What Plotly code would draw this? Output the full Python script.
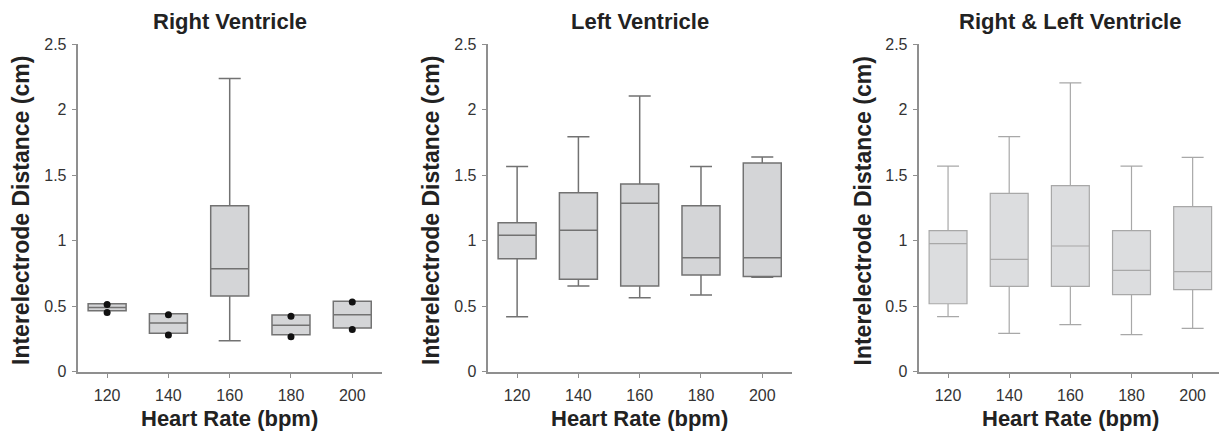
import plotly.graph_objects as go

categories = ["120", "140", "160", "180", "200"]

# Right Ventricle
rv_q1 = [0.466, 0.293, 0.578, 0.283, 0.334]
rv_med = [0.491, 0.372, 0.787, 0.354, 0.435]
rv_q3 = [0.519, 0.443, 1.268, 0.433, 0.537]
rv_lo = [0.466, 0.293, 0.237, 0.283, 0.334]
rv_hi = [0.519, 0.443, 2.238, 0.433, 0.537]
rv_pts_x = ["120", "120", "140", "140", "180", "180", "200", "200"]
rv_pts_y = [0.514, 0.453, 0.435, 0.280, 0.423, 0.267, 0.532, 0.323]

# Left Ventricle
lv_q1 = [0.863, 0.705, 0.654, 0.738, 0.726]
lv_med = [1.042, 1.080, 1.286, 0.871, 0.871]
lv_q3 = [1.138, 1.367, 1.434, 1.268, 1.594]
lv_lo = [0.420, 0.654, 0.565, 0.586, 0.721]
lv_hi = [1.566, 1.795, 2.106, 1.566, 1.640]

# Right & Left Ventricle
rl_q1 = [0.519, 0.652, 0.652, 0.588, 0.626]
rl_med = [0.978, 0.858, 0.960, 0.774, 0.764]
rl_q3 = [1.077, 1.362, 1.421, 1.077, 1.260]
rl_lo = [0.420, 0.293, 0.359, 0.283, 0.331]
rl_hi = [1.569, 1.795, 2.205, 1.569, 1.637]

titles = ["Right Ventricle", "Left Ventricle", "Right & Left Ventricle"]
y_ticks = [0, 0.5, 1, 1.5, 2, 2.5]
y_ticktext = ["0", "0.5", "1", "1.5", "2", "2.5"]

# page has an 8px body margin; figure is sized so it ends at the window edge
OFF = 8
W, H = 1227 - OFF, 439 - OFF
FONT = "Liberation Sans, Arial, sans-serif"


def px_x(p):
    return (p - OFF) / W


def px_y(p):
    return (H - (p - OFF)) / H


fig = go.Figure()

panels = [
    (rv_q1, rv_med, rv_q3, rv_lo, rv_hi, "#d4d5d7", "#727272", 1.5),
    (lv_q1, lv_med, lv_q3, lv_lo, lv_hi, "#d4d5d7", "#727272", 1.5),
    (rl_q1, rl_med, rl_q3, rl_lo, rl_hi, "#dcdddf", "#a8a8a8", 1.2),
]

# pixel positions (in window coordinates) of each plot area (left, right)
x_px = [(77.7, 381.7), (487.7, 791.7), (918.7, 1222.0)]
ytitle_px = [21, 431, 862.5]
y_bot, y_top = 371.7, 44.3
ydom = [px_y(y_bot), px_y(y_top)]

for i, (q1, med, q3, lo, hi, fill, line, lw) in enumerate(panels):
    xa = "x" if i == 0 else f"x{i+1}"
    ya = "y" if i == 0 else f"y{i+1}"
    fig.add_trace(go.Box(
        x=categories, q1=q1, median=med, q3=q3,
        lowerfence=lo, upperfence=hi,
        fillcolor=fill, line=dict(color=line, width=lw),
        width=0.62, whiskerwidth=0.58, boxpoints=False,
        xaxis=xa, yaxis=ya, showlegend=False, hoverinfo="skip",
    ))
    if i == 0:
        fig.add_trace(go.Scatter(
            x=rv_pts_x, y=rv_pts_y, mode="markers",
            marker=dict(color="#111111", size=7),
            xaxis=xa, yaxis=ya, showlegend=False, hoverinfo="skip",
        ))
    l, r = x_px[i]
    axis_common = dict(
        showline=True, linecolor="#8f8f8f", linewidth=2,
        ticks="outside", ticklen=4, tickcolor="#8f8f8f", tickwidth=1,
        showgrid=False, zeroline=False, automargin=False,
        tickfont=dict(family=FONT, size=16, color="#333333"),
    )
    layout_x = dict(axis_common, domain=[px_x(l), px_x(r)], anchor=ya,
                    type="category", range=[-0.48, 4.48],
                    categoryorder="array", categoryarray=categories,
                    ticklabelstandoff=4)
    layout_y = dict(axis_common, domain=ydom, anchor=xa, range=[0, 2.5],
                    tickvals=y_ticks, ticktext=y_ticktext,
                    ticklabelstandoff=2)
    fig.update_layout(**{
        ("xaxis" if i == 0 else f"xaxis{i+1}"): layout_x,
        ("yaxis" if i == 0 else f"yaxis{i+1}"): layout_y,
    })
    cx = (l + r) / 2
    fig.add_annotation(text=f"<b>{titles[i]}</b>", xref="paper", yref="paper",
                       x=px_x(cx), y=px_y(21), showarrow=False,
                       xanchor="center", yanchor="middle",
                       font=dict(family=FONT, size=22, color="#222222"))
    fig.add_annotation(text="<b>Heart Rate (bpm)</b>", xref="paper", yref="paper",
                       x=px_x(cx), y=px_y(418), showarrow=False,
                       xanchor="center", yanchor="middle",
                       font=dict(family=FONT, size=22, color="#222222"))
    fig.add_annotation(text="<b>Interelectrode Distance (cm)</b>", xref="paper", yref="paper",
                       x=px_x(ytitle_px[i]), y=px_y(211), showarrow=False,
                       textangle=-90, xanchor="center", yanchor="middle",
                       font=dict(family=FONT, size=23, color="#222222"))

fig.update_layout(
    width=W, height=H, margin=dict(l=0, r=0, t=0, b=0, autoexpand=False),
    paper_bgcolor="white", plot_bgcolor="white",
    font=dict(family=FONT),
)

fig.write_html("out.html")
